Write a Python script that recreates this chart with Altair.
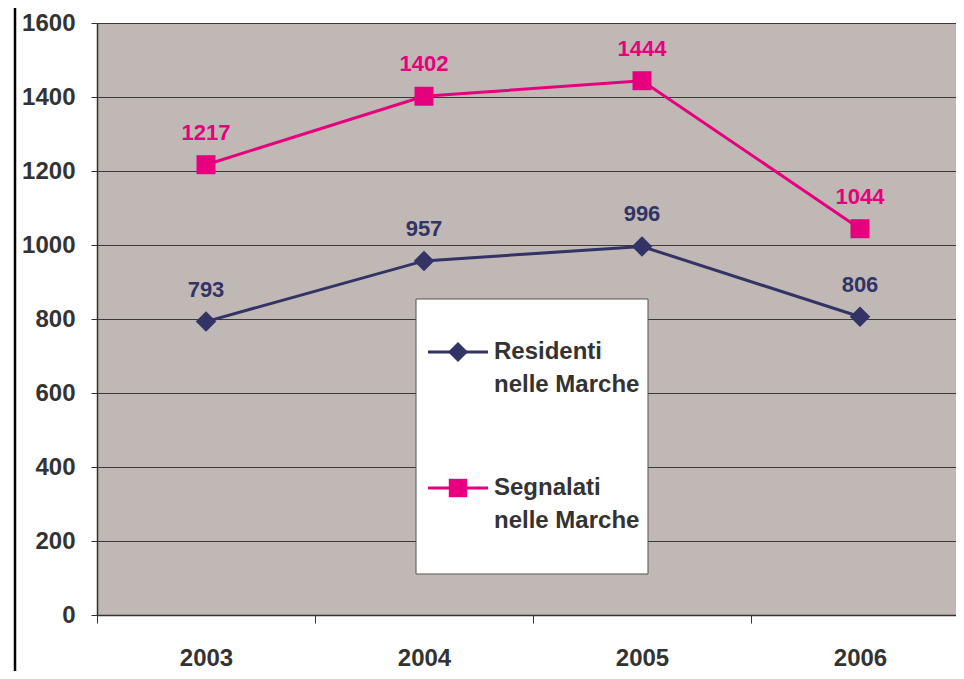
import altair as alt
import pandas as pd

years = ["2003", "2004", "2005", "2006"]
residenti = [793, 957, 996, 806]
segnalati = [1217, 1402, 1444, 1044]
series = ["Residenti nelle Marche", "Segnalati nelle Marche"]
legend_lines = [["Residenti", "nelle Marche"], ["Segnalati", "nelle Marche"]]
y_ticks = [0, 200, 400, 600, 800, 1000, 1200, 1400, 1600]

NAVY = "#333366"
MAG = "#E6007E"
TXT = "#333333"

df = pd.DataFrame({
    "year": years * 2,
    "value": residenti + segnalati,
    "series": [series[0]] * 4 + [series[1]] * 4,
})

color_scale = alt.Scale(domain=series, range=[NAVY, MAG])

x_enc = alt.X(
    "year:N",
    scale=alt.Scale(paddingInner=0, paddingOuter=0, range=[0, 872]),
    axis=alt.Axis(
        title=None, labelAngle=0, tickBand="extent", ticks=True, tickSize=8,
        tickColor=TXT, domainColor=TXT, domainWidth=1.5, labelFontSize=24,
        labelFontWeight="bold", labelColor=TXT, labelPadding=23, grid=False,
    ),
)
y_enc = alt.Y(
    "value:Q",
    scale=alt.Scale(domain=[0, 1600], nice=False),
    axis=alt.Axis(
        title=None, values=y_ticks, format="d", tickSize=6, tickColor=TXT,
        domainColor=TXT, domainWidth=1.5, labelFontSize=24, labelFontWeight="bold",
        labelColor=TXT, labelPadding=16, grid=True, gridColor="#3a3a3a", gridWidth=1,
    ),
)

base = alt.Chart(df)

lines = base.mark_line(strokeWidth=3).encode(
    x=x_enc, y=y_enc,
    color=alt.Color("series:N", scale=color_scale, legend=None),
)

pts_r = base.transform_filter(alt.datum.series == series[0]).mark_point(
    shape="diamond", filled=True, size=420, opacity=1
).encode(x=x_enc, y=y_enc, color=alt.Color("series:N", scale=color_scale, legend=None))

pts_s = base.transform_filter(alt.datum.series == series[1]).mark_point(
    shape="square", filled=True, size=361, opacity=1
).encode(x=x_enc, y=y_enc, color=alt.Color("series:N", scale=color_scale, legend=None))

labels = base.mark_text(dy=-32, fontSize=22, fontWeight="bold").encode(
    x=x_enc, y=y_enc, text=alt.Text("value:Q"),
    color=alt.Color("series:N", scale=color_scale, legend=None),
)

# ---- legend box (drawn as guide marks in pixel space) ----
one = pd.DataFrame({"a": [0]})
box = alt.Chart(one).mark_rect(fill="white", stroke="#555555", strokeWidth=1).encode(
    x=alt.value(319), x2=alt.value(551), y=alt.value(276), y2=alt.value(551)
)

legend_layers = []
entry_y = [329, 465]
shapes = ["diamond", "square"]
sizes = [400, 340]
colors = [NAVY, MAG]
for i in range(2):
    yy = entry_y[i]
    legend_layers.append(
        alt.Chart(one).mark_rule(color=colors[i], strokeWidth=3).encode(
            x=alt.value(331), x2=alt.value(391), y=alt.value(yy)
        )
    )
    legend_layers.append(
        alt.Chart(one).mark_point(shape=shapes[i], filled=True, opacity=1,
                                  color=colors[i], size=sizes[i]).encode(
            x=alt.value(361), y=alt.value(yy)
        )
    )
    for j, t in enumerate(legend_lines[i]):
        legend_layers.append(
            alt.Chart(one).mark_text(text=t, align="left", baseline="middle",
                                     fontSize=24, fontWeight="bold", color=TXT).encode(
                x=alt.value(397), y=alt.value(yy + 33 * j)
            )
        )

frame = alt.Chart(one).mark_rule(color="black", strokeWidth=2.5).encode(
    x=alt.value(-82), y=alt.value(-20), y2=alt.value(700)
)

chart = alt.layer(lines, pts_r, pts_s, labels, box, *legend_layers, frame).properties(
    width=859, height=592,
    autosize=alt.AutoSizeParams(type="none"),
    padding={"left": 89, "top": 15, "right": 0, "bottom": 56},
).configure(
    font="Liberation Sans",
).configure_view(
    fill="#C0B8B5", stroke="#777777"
)

chart.save("out.html", embed_options={"renderer": "svg", "actions": False})
